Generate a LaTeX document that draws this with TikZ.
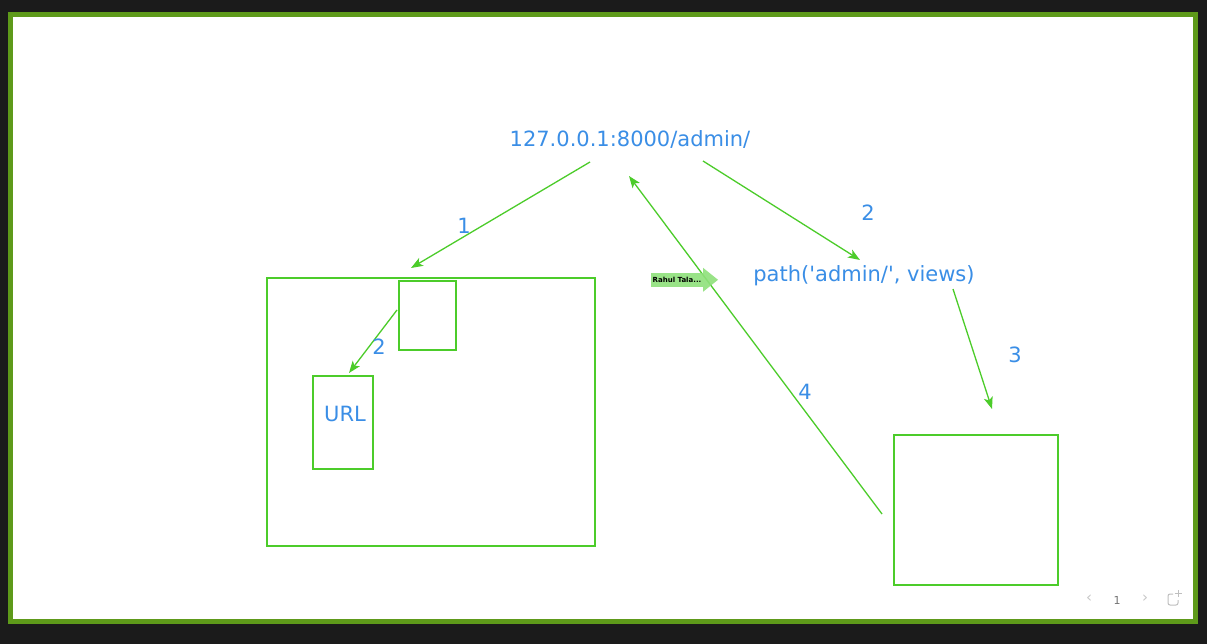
\documentclass[tikz,border=0pt]{standalone}
\usepackage{fontspec}
\setmainfont{DejaVu Sans}[Ligatures=TeXOff]
\usetikzlibrary{arrows.meta}
\definecolor{txtblue}{HTML}{3A8EE6}
\definecolor{linegreen}{HTML}{4CCC2A}
\definecolor{framegreen}{HTML}{5E9A1A}
\definecolor{tabgreen}{HTML}{8EE07A}
\definecolor{darkbg}{HTML}{1B1B1B}

\begin{document}
\begin{tikzpicture}[x=1pt, y=-1pt,
  lbl/.style = {text=txtblue, font=\fontsize{21}{25}\selectfont, inner sep=0pt},
  box/.style = {draw=linegreen, line width=1.5pt, inner sep=0pt},
  arr/.style = {draw=linegreen, line width=1.3pt, -{Stealth[length=12pt, width=9pt, inset=3pt]}},
  ctl/.style = {text=gray!45, font=\fontsize{15}{17}\selectfont, inner sep=0pt}]

  \useasboundingbox (0,0) rectangle (1207,644);
  \fill[darkbg] (0,0) rectangle (1207,644);
  \draw[framegreen, line width=5pt, fill=white] (10.5,14.5) rectangle (1195.5,621.5);

  % texts
  \node[lbl] (addr) at (630,139) {127.0.0.1:8000/admin/};
  \node[lbl] (path) at (864,276) {path('admin/', views)};

  % boxes
  \node[box, minimum width=328pt, minimum height=268pt] (proj) at (431,412) {};
  \node[box, minimum width=57pt, minimum height=69pt] (app) at (427.5,315.5) {};
  \node[box, minimum width=60pt, minimum height=93pt] (url) at (343,422.5) {};
  \node[lbl] (urltxt) at (345,414) {URL};
  \node[box, minimum width=164pt, minimum height=150pt] (view) at (976,510) {};

  % arrow ends
  \coordinate (a1s) at (590,162);
  \coordinate (a1e) at (411,268);
  \coordinate (a2s) at (703,161);
  \coordinate (a2e) at (860,260);
  \coordinate (a3s) at (953,289);
  \coordinate (a3e) at (992,409);
  \coordinate (a4s) at (882,514);
  \coordinate (a4e) at (629,176);
  \coordinate (b2s) at (397,310);
  \coordinate (b2e) at (349,373);

  \draw[arr] (a1s) -- (a1e);
  \draw[arr] (a2s) -- (a2e);
  \draw[arr] (a3s) -- (a3e);
  \draw[arr] (a4s) -- (a4e);
  \draw[arr] (b2s) -- (b2e);

  \node[lbl] (n1) at (464,226) {1};
  \node[lbl] (n2) at (868,213) {2};
  \node[lbl] (n3) at (1015,355) {3};
  \node[lbl] (n4) at (805,392) {4};
  \node[lbl] (m2) at (379,347) {2};

  % user tag
  \node[fill=tabgreen, opacity=0.9, text opacity=1, inner sep=1.5pt, minimum height=14pt,
        font=\bfseries\fontsize{7}{8}\selectfont, anchor=west] (tag) at (651,280) {Rahul Tala...};
  \fill[tabgreen, opacity=0.9] (tag.north east) -- ++(0,-5) -- ++(15,12) -- ++(-15,12) -- (tag.south east) -- cycle;

  % page controls
  \node[ctl] (prev) at (1089,599) {‹};
  \node[ctl, text=gray!90!black, font=\fontsize{11}{13}\selectfont] (page) at (1117,600) {1};
  \node[ctl] (next) at (1145,599) {›};
  \draw[gray!50, line width=1pt, rounded corners=2pt] (1173,594) -- (1168,594) -- (1168,605) -- (1178,605) -- (1178,600);
  \draw[gray!50, line width=0.8pt] (1178,590) -- (1178,597) (1174.5,593.5) -- (1181.5,593.5);
\end{tikzpicture}
\end{document}
